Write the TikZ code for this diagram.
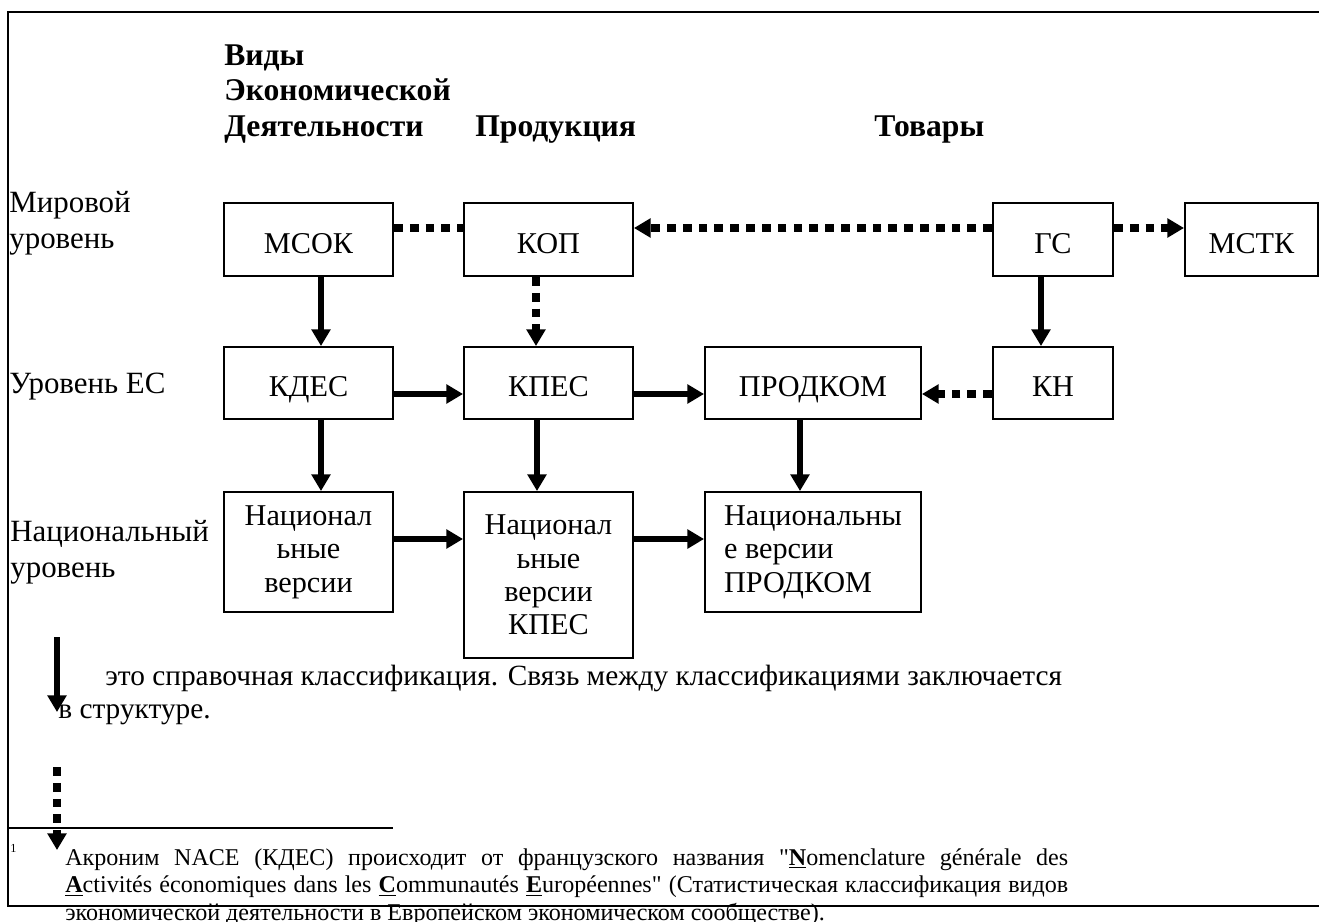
\documentclass[tikz,border=0pt]{standalone}
\usepackage{fontspec}
\setmainfont{Liberation Serif}
\usetikzlibrary{arrows.meta,positioning}

\tikzset{
  box/.style={draw, line width=1.1pt, inner sep=0pt, align=center,
    font=\fontsize{17.2pt}{19pt}\selectfont},
  cbox/.style={box, text height=15.4pt, text depth=0pt},
  solidarr/.style={line width=3.8pt, -{Triangle[length=9.5pt,width=10.5pt]}},
  dotline/.style={line width=4pt, dash pattern=on 5pt off 4pt},
  dotarr/.style={dotline, -{Triangle[length=9.5pt,width=10.5pt]}},
  lbl/.style={inner sep=0pt, align=left, font=\fontsize{17.6pt}{20.4pt}\selectfont},
  head/.style={lbl, font=\fontsize{18pt}{20.1pt}\selectfont\bfseries},
  fn/.style={inner sep=0pt, font=\fontsize{13.7pt}{15.9pt}\selectfont}
}

\begin{document}
\begin{tikzpicture}[x=0.02cm,y=-0.02cm]
%
\path[use as bounding box, clip] (0,0) rectangle (1319,921);
%
\draw[line width=1.1pt] (8,12) rectangle (1340,906);
%
% headings
\node[head, anchor=base west] (hvid) at (224,136) {Виды\\Экономической\\Деятельности};
\node[head, anchor=base west] (hprod) at (475,136) {Продукция};
\node[head, anchor=base west] (htov) at (874,136) {Товары};
%
% levels
\node[lbl, anchor=base west] (lworld) at (9,248) {Мировой\\уровень};
\node[lbl, anchor=base west] (leu) at (9,393) {Уровень ЕС};
\node[lbl, anchor=base west] (lnat) at (10,577) {Национальный\\уровень};
%
% classifications
\node[cbox, minimum width=3.38cm, minimum height=1.46cm] (msok) at (308.5,239.5) {МСОК};
\node[cbox, minimum width=3.38cm, minimum height=1.46cm] (kop) at (548.5,239.5) {КОП};
\node[cbox, minimum width=2.4cm, minimum height=1.46cm] (gs) at (1053,239.5) {ГС};
\node[cbox, minimum width=2.66cm, minimum height=1.46cm] (mstk) at (1251.5,239.5) {МСТК};
\node[cbox, minimum width=3.38cm, minimum height=1.44cm] (kdes) at (308.5,383) {КДЕС};
\node[cbox, minimum width=3.38cm, minimum height=1.44cm] (kpes) at (548.5,383) {КПЕС};
\node[cbox, minimum width=4.32cm, minimum height=1.44cm] (prod) at (813,383) {ПРОДКОМ};
\node[cbox, minimum width=2.4cm, minimum height=1.44cm] (kn) at (1053,383) {КН};
\node[box, minimum width=3.38cm, minimum height=2.4cm] (nat1) at (308.5,552) {Национал\\ьные\\версии};
\node[box, minimum width=3.38cm, minimum height=3.32cm] (nat2) at (548.5,575) {Национал\\ьные\\версии\\КПЕС};
\node[box, align=left, minimum width=4.32cm, minimum height=2.4cm] (nat3) at (813,552) {Национальны\\е версии\\ПРОДКОМ};
%
% world level
\draw[dotline] ([yshift=0.23cm]msok.east) -- ([yshift=0.23cm]kop.west);
\draw[dotarr] ([yshift=0.23cm]gs.west) -- ([yshift=0.23cm]kop.east);
\draw[dotarr] ([yshift=0.23cm]gs.east) -- ([yshift=0.23cm]mstk.west);
\draw[solidarr] ([xshift=0.25cm]msok.south) -- ([xshift=0.25cm]kdes.north);
\draw[dotarr] ([xshift=-0.25cm]kop.south) -- ([xshift=-0.25cm]kpes.north);
\draw[solidarr] ([xshift=-0.24cm]gs.south) -- ([xshift=-0.24cm]kn.north);
%
% EU level
\draw[solidarr] ([yshift=-0.22cm]kdes.east) -- ([yshift=-0.22cm]kpes.west);
\draw[solidarr] ([yshift=-0.22cm]kpes.east) -- ([yshift=-0.22cm]prod.west);
\draw[dotarr] ([yshift=-0.22cm]kn.west) -- ([yshift=-0.22cm]prod.east);
\draw[solidarr] ([xshift=0.25cm]kdes.south) -- ([xshift=0.25cm]nat1.north);
\draw[solidarr] ([xshift=-0.23cm]kpes.south) -- ([xshift=-0.23cm]nat2.north);
\draw[solidarr] ([xshift=-0.26cm]prod.south) -- ([xshift=-0.26cm]nat3.north);
%
% national level
\draw[solidarr] ([yshift=0.26cm]nat1.east) -- ([yshift=0.26cm]nat1.east -| nat2.west);
\draw[solidarr] ([yshift=0.26cm]nat3.west -| nat2.east) -- ([yshift=0.26cm]nat3.west);
%
% legend
\coordinate (s0) at (57,637);
\coordinate (s1) at (57,712);
\draw[solidarr] (s0) -- (s1);
\node[lbl, anchor=base west, font=\fontsize{16.7pt}{18.7pt}\selectfont] (ltext) at (58,718)
  {\hspace*{0.94cm}это справочная классификация. Связь между классификациями заключается\\в структуре.};
\coordinate (d0) at (57,767);
\coordinate (d1) at (57,850);
\draw[dotarr] (d0) -- (d1);
%
% footnote
\draw[line width=1.1pt] (8,828) -- (393,828);
\node[fn, anchor=base west, font=\fontsize{7pt}{8pt}\selectfont] (fmark) at (10,852) {1};
\node[fn, anchor=base west, text width=20.06cm, align=justify] (fnote) at (65,865)
  {Акроним NACE (КДЕС) происходит от французского названия \textquotedbl\underline{\textbf{N}}omenclature générale des\linebreak
   \underline{\textbf{A}}ctivités économiques dans les \underline{\textbf{C}}ommunautés \underline{\textbf{E}}uropéennes\textquotedbl{} (Статистическая классификация видов\linebreak
   экономической деятельности в Европейском экономическом сообществе).};
%
\end{tikzpicture}
\end{document}
